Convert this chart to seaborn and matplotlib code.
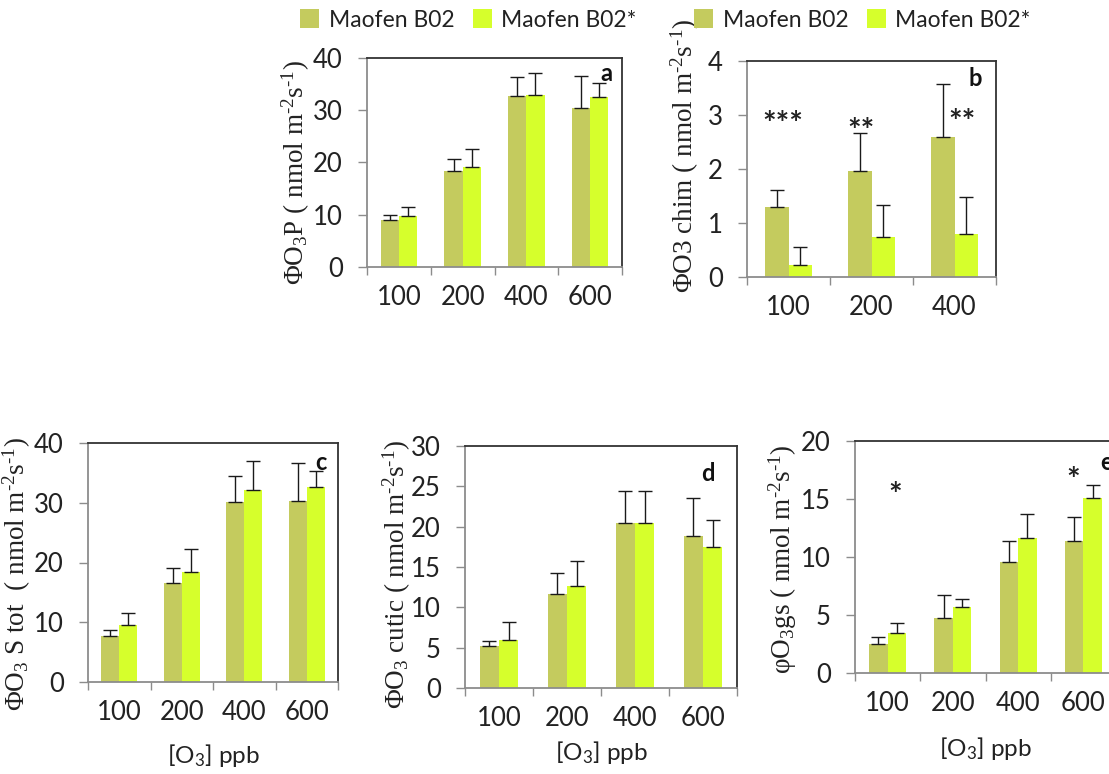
import numpy as np
import pandas as pd
import matplotlib
matplotlib.use('Agg')
import matplotlib.pyplot as plt
import seaborn as sns
from matplotlib.patches import Patch

sns.set_theme(style='white')
plt.rcParams['font.family'] = ['Lato', 'DejaVu Sans']
plt.rcParams['mathtext.fontset'] = 'custom'
plt.rcParams['mathtext.rm'] = 'Liberation Serif'
plt.rcParams['mathtext.it'] = 'Liberation Serif:italic'
plt.rcParams['mathtext.bf'] = 'Liberation Serif:bold'
plt.rcParams['mathtext.sf'] = 'Lato'

# ---------------- data ----------------
series = ['Maofen B02', 'Maofen B02*']
colors = ['#C4CB5E', '#D6FF2C']

cats4 = ['100', '200', '400', '600']
cats3 = ['100', '200', '400']

# panel a: PhiO3P
a_b02 = [9.0, 18.4, 32.7, 30.4]
a_b02_sd = [1.0, 2.3, 3.7, 6.1]
a_star = [9.7, 19.1, 33.0, 32.6]
a_star_sd = [1.8, 3.5, 4.1, 2.6]

# panel b: PhiO3 chim
b_b02 = [1.29, 1.97, 2.60]
b_b02_sd = [0.33, 0.70, 0.98]
b_star = [0.23, 0.74, 0.79]
b_star_sd = [0.32, 0.59, 0.69]
b_sig = ['***', '**', '**']
b_sig_x = [-0.07, 0.87, 2.09]
b_sig_y = [2.80, 2.67, 2.85]

# panel c: PhiO3 S tot
c_b02 = [7.7, 16.5, 30.1, 30.35]
c_b02_sd = [0.95, 2.5, 4.4, 6.25]
c_star = [9.55, 18.4, 32.2, 32.6]
c_star_sd = [2.0, 3.8, 4.8, 2.7]

# panel d: PhiO3 cutic
d_b02 = [5.17, 11.6, 20.4, 18.9]
d_b02_sd = [0.66, 2.66, 4.0, 4.65]
d_star = [6.0, 12.6, 20.5, 17.5]
d_star_sd = [2.14, 3.2, 3.96, 3.3]

# panel e: phiO3 gs
e_b02 = [2.47, 4.78, 9.61, 11.34]
e_b02_sd = [0.63, 1.98, 1.79, 2.13]
e_star = [3.48, 5.73, 11.68, 15.08]
e_star_sd = [0.82, 0.69, 1.99, 1.15]
e_sig = ['*', '*']
e_sig_x = [0.11, 2.84]
e_sig_y = [15.2, 16.5]

unit = r' ( nmol m$\mathrm{^{\text{-2}}}$s$\mathrm{^{\text{-1}}}$)'
xlab = r'[O$\mathsf{_3}$] ppb'

W, H = 1109, 774
fig = plt.figure(figsize=(W / 100, H / 100), dpi=100)


def px_axes(l, t, r, b):
    return fig.add_axes([l / W, 1 - b / H, (r - l) / W, (b - t) / H])


def panel(ax, cats, m1, s1, m2, s2, ymax, ystep, ylabel, ylab_xy, letter, letter_xy,
          xlabel=None, xlab_off=None, sig=None):
    n = len(cats)
    df = pd.DataFrame({'conc': cats * 2,
                       'series': [series[0]] * n + [series[1]] * n,
                       'value': list(m1) + list(m2)})
    sns.barplot(data=df, x='conc', y='value', hue='series', order=cats,
                hue_order=series, palette=colors, width=0.57, saturation=1,
                errorbar=None, legend=False, ax=ax, linewidth=0)
    xs = [p.get_x() + p.get_width() / 2 for p in ax.patches]
    means = list(m1) + list(m2)
    sds = list(s1) + list(s2)
    ax.errorbar(xs, means, yerr=[np.zeros(len(sds)), sds], fmt='none',
                ecolor='#1a1a1a', elinewidth=1.0, capsize=4.7, capthick=1.0)
    ax.set_xlim(-0.5, n - 0.5)
    ax.set_ylim(0, ymax)
    ticks = np.arange(0, ymax + ystep / 2, ystep)
    ax.set_yticks(ticks)
    ax.set_yticklabels([f'{v:g}' for v in ticks])
    ax.set_xticks(range(n))
    ax.set_xticklabels(cats)
    ax.set_xticks(np.arange(-0.5, n, 1.0), minor=True)
    ax.tick_params(axis='x', which='major', length=0, pad=13, labelsize=18.5,
                   labelcolor='#222222', bottom=True)
    ax.tick_params(axis='x', which='minor', length=6, width=1, color='#8c8c8c',
                   direction='out', bottom=True)
    ax.tick_params(axis='y', which='major', length=6.5, width=1, color='#8c8c8c',
                   direction='out', pad=11, labelsize=18.5, labelcolor='#222222', left=True)
    for s in ['top', 'right']:
        ax.spines[s].set_color('#333333')
        ax.spines[s].set_linewidth(1.3)
    for s in ['left', 'bottom']:
        ax.spines[s].set_color('#8c8c8c')
        ax.spines[s].set_linewidth(1.3)
    ax.set_ylabel(ylabel, fontfamily='Liberation Serif', fontsize=19.5, color='#222222',
                  va='center')
    ax.yaxis.set_label_coords(*ylab_xy)
    if xlabel:
        ax.set_xlabel(xlabel, fontsize=17.5, color='#222222', va='center')
        ax.xaxis.set_label_coords(0.5, -xlab_off / (ax.get_position().height * H))
    else:
        ax.set_xlabel('')
    ax.text(letter_xy[0], letter_xy[1], letter, transform=ax.transAxes,
            ha='center', va='center', fontsize=17, fontweight='bold', color='#111111')
    if sig:
        for t, x, y in zip(*sig):
            ax.text(x, y, t, ha='center', va='center', fontsize=23, fontweight='bold',
                    color='#222222')


# panel a
ax_a = px_axes(367, 58, 622, 267)
panel(ax_a, cats4, a_b02, a_b02_sd, a_star, a_star_sd, 40, 10,
      r'ΦO$\mathrm{_3}$P' + unit, (-0.28, 0.45), 'a', (0.937, 0.928))

# panel b
ax_b = px_axes(747, 61, 996, 277)
panel(ax_b, cats3, b_b02, b_b02_sd, b_star, b_star_sd, 4, 1,
      r'ΦO3 chim' + unit, (-0.25, 0.56), 'b', (0.916, 0.92),
      sig=(b_sig, b_sig_x, b_sig_y))

# panel c
ax_c = px_axes(88, 443, 338, 682)
panel(ax_c, cats4, c_b02, c_b02_sd, c_star, c_star_sd, 40, 10,
      r'ΦO$\mathrm{_3}$ S tot  ( nmol m$\mathrm{^{\text{-2}}}$s$\mathrm{^{\text{-1}}}$)',
      (-0.285, 0.45), 'c', (0.932, 0.92), xlabel=xlab, xlab_off=73)

# panel d
ax_d = px_axes(465, 446, 737, 688)
panel(ax_d, cats4, d_b02, d_b02_sd, d_star, d_star_sd, 30, 5,
      r'ΦO$\mathrm{_3}$ cutic' + unit, (-0.25, 0.47), 'd', (0.893, 0.888),
      xlabel=xlab, xlab_off=65)

# panel e
ax_e = px_axes(855, 441, 1116, 673)
panel(ax_e, cats4, e_b02, e_b02_sd, e_star, e_star_sd, 20, 5,
      r'φO$\mathrm{_3}$gs' + unit, (-0.275, 0.49), 'e', (0.965, 0.909),
      xlabel=xlab, xlab_off=75, sig=(e_sig, e_sig_x, e_sig_y))

handles = [Patch(facecolor=c, edgecolor='none') for c in colors]
for x0 in [300 / W, 694 / W]:
    fig.legend(handles, series, loc='center left', bbox_to_anchor=(x0, 1 - 20 / H),
               ncol=2, frameon=False, fontsize=16.5, handlelength=0.85, handleheight=0.85,
               handletextpad=0.4, columnspacing=0.8, borderpad=0, borderaxespad=0,
               labelcolor='#222222')

fig.savefig('out.png', dpi=100)
